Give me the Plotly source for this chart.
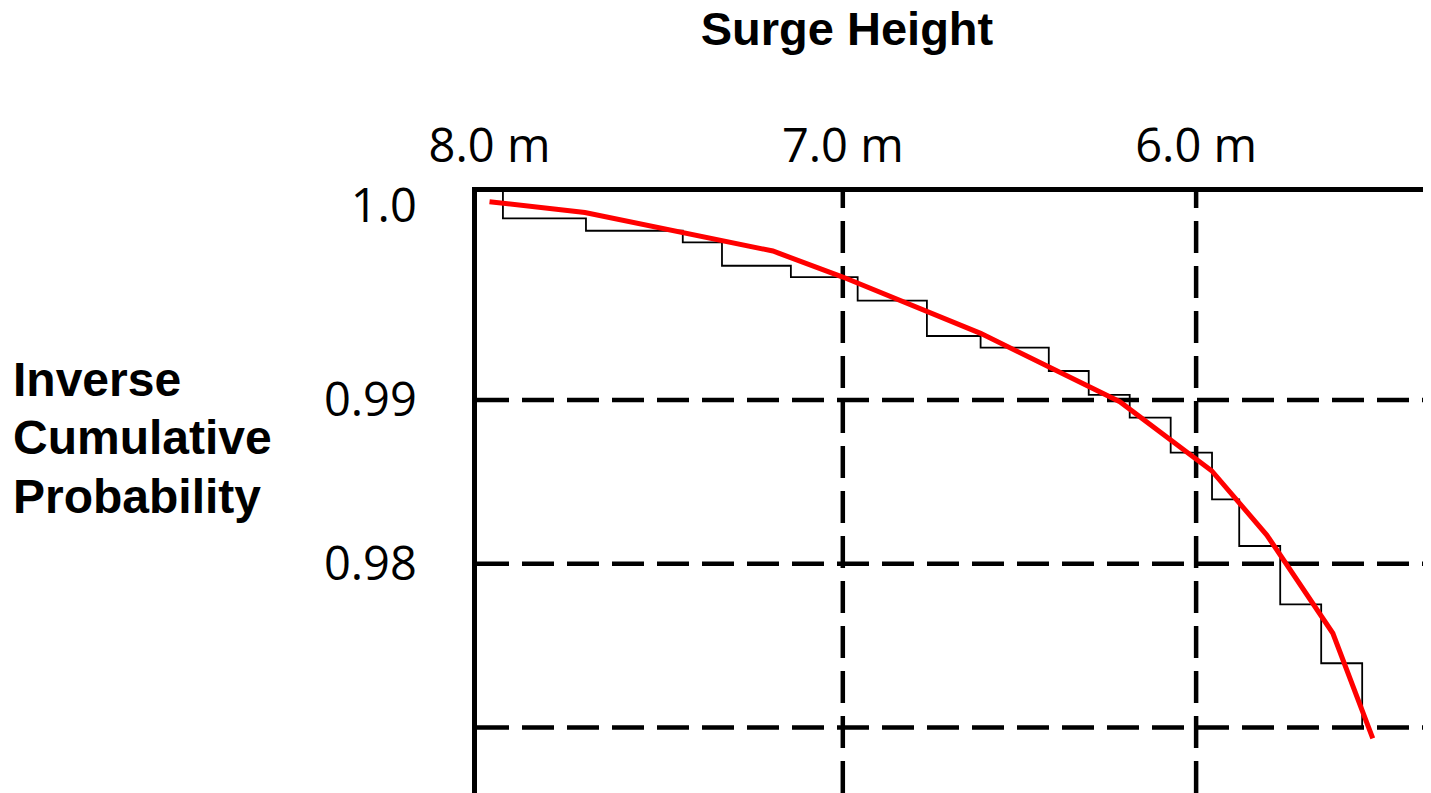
import plotly.graph_objects as go

# Empirical step function (surge height in m, inverse cumulative probability)
step_height = [7.962, 7.727, 7.453, 7.342, 7.147, 6.958, 6.762, 6.610, 6.417,
               6.304, 6.188, 6.072, 5.955, 5.878, 5.762, 5.646, 5.530, 5.530]
step_prob = [1.0029, 1.0011, 1.00034, 0.99963, 0.99820, 0.99750, 0.99607, 0.99391,
             0.99320, 0.99177, 0.99031, 0.98892, 0.98678, 0.98393, 0.98108,
             0.97752, 0.97392, 0.96996]

# Fitted curve
fit_height = [8.0, 7.730, 7.198, 7.0, 6.610, 6.216, 5.956, 5.800, 5.613, 5.500]
fit_prob = [1.00211, 1.00145, 0.99910, 0.99751, 0.99407, 0.98990, 0.98568,
            0.98175, 0.97575, 0.96933]

x_tick_vals = [8.0, 7.0, 6.0]
x_tick_text = ["8.0 m", "7.0 m", "6.0 m"]
y_tick_vals = [1.0019, 0.99, 0.98, 0.97]
y_tick_text = ["1.0", "0.99", "0.98", ""]
x_grid = [7.0, 6.0]
y_grid = [0.99, 0.98, 0.97]
y_title_lines = ["Inverse", "Cumulative", "Probability"]
y_title_pos = [0.6872, 0.5907, 0.4933]

tick_font = dict(family="Open Sans, Noto Sans, sans-serif", size=47, color="black")
bold_family = "Liberation Sans, Arial, sans-serif"

fig = go.Figure()
fig.add_trace(go.Scatter(x=step_height, y=step_prob, mode="lines",
                         line=dict(color="black", width=1.8, shape="vh"),
                         hoverinfo="skip", showlegend=False))
fig.add_trace(go.Scatter(x=fit_height, y=fit_prob, mode="lines",
                         line=dict(color="#ff0000", width=5),
                         showlegend=False))

shapes = []
for gx in x_grid:
    shapes.append(dict(type="line", xref="x", yref="paper", x0=gx, x1=gx, y0=0, y1=1,
                       line=dict(color="black", width=4.5, dash="32px,13px"), layer="below"))
for gy in y_grid:
    shapes.append(dict(type="line", xref="paper", yref="y", x0=0, x1=1, y0=gy, y1=gy,
                       line=dict(color="black", width=4.5, dash="32px,13px"), layer="below"))

annotations = []
for txt, yp in zip(y_title_lines, y_title_pos):
    annotations.append(dict(text="<b>" + txt + "</b>", xref="paper", yref="paper",
                            x=-0.4885, y=yp, xanchor="left", yanchor="middle",
                            showarrow=False,
                            font=dict(family=bold_family, size=48, color="black")))

fig.update_layout(
    width=1423, height=785,
    margin=dict(l=469, r=0, t=184, b=0, pad=0),
    paper_bgcolor="white", plot_bgcolor="white",
    shapes=shapes,
    title=dict(text="<b>Surge Height</b>",
               font=dict(family=bold_family, size=47, color="black"),
               xref="container", x=0.5896, xanchor="center",
               yref="container", y=0.9735, yanchor="middle"),
    annotations=annotations,
)
fig.update_xaxes(range=[8.0354, 5.3352], side="top", tickvals=x_tick_vals, ticktext=x_tick_text,
                 tickfont=tick_font, showgrid=False, zeroline=False, ticks="",
                 ticklabelstandoff=6, showline=True, linecolor="black", linewidth=4.5)
fig.update_yaxes(range=[0.965993, 1.002706], tickvals=y_tick_vals, ticktext=y_tick_text,
                 tickfont=tick_font, showgrid=False, zeroline=False, ticks="",
                 ticklabelstandoff=46, showline=True, linecolor="black", linewidth=4.5)

fig.write_html("out.html")
